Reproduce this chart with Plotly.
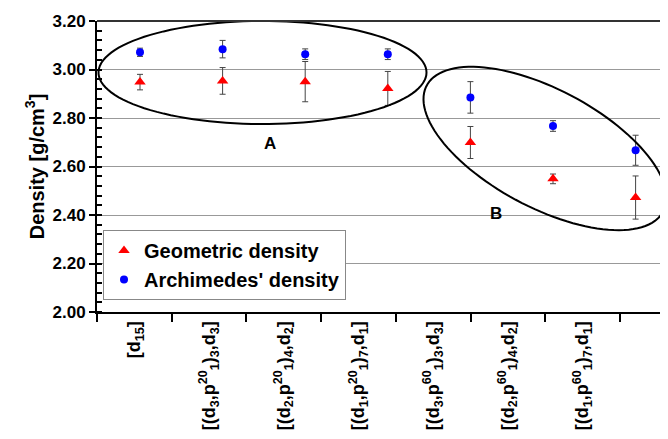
import numpy as np
import plotly.graph_objects as go

categories = [
    "[d<sub>15</sub>]",
    "[(d<sub>3</sub>,p<sup>20</sup><sub>1</sub>)<sub>3</sub>,d<sub>3</sub>]",
    "[(d<sub>2</sub>,p<sup>20</sup><sub>1</sub>)<sub>4</sub>,d<sub>2</sub>]",
    "[(d<sub>1</sub>,p<sup>20</sup><sub>1</sub>)<sub>7</sub>,d<sub>1</sub>]",
    "[(d<sub>3</sub>,p<sup>60</sup><sub>1</sub>)<sub>3</sub>,d<sub>3</sub>]",
    "[(d<sub>2</sub>,p<sup>60</sup><sub>1</sub>)<sub>4</sub>,d<sub>2</sub>]",
    "[(d<sub>1</sub>,p<sup>60</sup><sub>1</sub>)<sub>7</sub>,d<sub>1</sub>]",
]
geometric = [2.948, 2.953, 2.950, 2.922, 2.699, 2.549, 2.472]
geometric_err = [0.032, 0.055, 0.083, 0.070, 0.066, 0.020, 0.089]
archimedes = [3.071, 3.084, 3.063, 3.063, 2.885, 2.767, 2.667]
archimedes_err = [0.017, 0.036, 0.022, 0.022, 0.065, 0.022, 0.062]
y_ticks = [2.00, 2.20, 2.40, 2.60, 2.80, 3.00, 3.20]

# the page body adds an 8px offset; work in screen pixels and compensate
OFF = 8
W, H = 668 - OFF, 439 - OFF
L, R, T, B = 97, 668, 21, 312  # screen coords of the plot area
FONT = "Liberation Sans, Arial, sans-serif"

fig = go.Figure()
fig.add_trace(go.Scatter(
    x=categories, y=geometric, mode="markers", name="Geometric density",
    marker=dict(symbol="triangle-up", size=10, color="#ff0000"),
    error_y=dict(type="data", array=geometric_err, color="#444444", thickness=1, width=3),
))
fig.add_trace(go.Scatter(
    x=categories, y=archimedes, mode="markers", name="Archimedes' density",
    marker=dict(symbol="circle", size=8, color="#0000ff"),
    error_y=dict(type="data", array=archimedes_err, color="#444444", thickness=1, width=3),
))
# invisible trace to drive the label axis
fig.add_trace(go.Scatter(
    x=categories, y=geometric, xaxis="x2", mode="markers",
    marker=dict(opacity=0), showlegend=False, hoverinfo="skip",
))


def px_to_paper(px, py):
    return (px - L) / (R - L), (B - py) / (B - T)


def ellipse_path(cx, cy, a, b, theta_deg, n=120):
    th = np.deg2rad(theta_deg)
    t = np.linspace(0, 2 * np.pi, n)
    xs = cx + a * np.cos(t) * np.cos(th) - b * np.sin(t) * np.sin(th)
    ys = cy + a * np.cos(t) * np.sin(th) + b * np.sin(t) * np.cos(th)
    pts = [px_to_paper(x, y) for x, y in zip(xs, ys)]
    return "M " + " L ".join(f"{x:.5f},{y:.5f}" for x, y in pts) + " Z"


shapes = [
    dict(type="path", xref="paper", yref="paper",
         path=ellipse_path(262.5, 72.5, 164, 51.5, 0),
         line=dict(color="black", width=2)),
    dict(type="path", xref="paper", yref="paper",
         path=ellipse_path(545, 148.5, 134, 59, 28),
         line=dict(color="black", width=2)),
    dict(type="line", xref="paper", yref="paper", x0=0, x1=1, y0=1, y1=1,
         line=dict(color="#333333", width=2)),
]

ax, ay = px_to_paper(262, 143)
bx, by = px_to_paper(504, 213)
annotations = [
    dict(x=ax, y=ay, xref="paper", yref="paper", text="<b>A</b>", showarrow=False,
         font=dict(size=17, family=FONT, color="black")),
    dict(x=bx, y=by, xref="paper", yref="paper", text="<b>B</b>", showarrow=False,
         font=dict(size=17, family=FONT, color="black")),
]

# data axis: point spacing
x1_range = [-(140 - L) / 82.6, (R - 140) / 82.6]
# label axis: category width
cw = 74.7
x2_range = [-0.5, -0.5 + (R - L) / cw]

fig.update_layout(
    width=W, height=H,
    margin=dict(l=L - OFF, r=0, t=T - OFF, b=H - (B - OFF), autoexpand=False),
    paper_bgcolor="white", plot_bgcolor="white",
    font=dict(family=FONT, color="black"),
    showlegend=True,
    legend=dict(
        x=px_to_paper(103, 0)[0], y=px_to_paper(0, 230)[1], xanchor="left", yanchor="top",
        bgcolor="white", bordercolor="#888888", borderwidth=1,
        font=dict(size=20, family=FONT, weight="bold", color="black"),
        itemwidth=30, tracegroupgap=0,
    ),
    xaxis=dict(
        type="category", categoryorder="array", categoryarray=categories,
        range=x1_range, showticklabels=False, showgrid=False, ticks="",
        showline=False, zeroline=False, automargin=False,
    ),
    xaxis2=dict(
        type="category", categoryorder="array", categoryarray=categories,
        overlaying="x", anchor="y", side="bottom", automargin=False,
        range=x2_range, tickson="boundaries", ticks="outside", ticklen=8,
        tickwidth=1.5, tickcolor="black",
        showline=True, linecolor="black", linewidth=2, showgrid=False,
        tickangle=-90,
        tickfont=dict(size=18, family=FONT, weight="bold", color="black"),
    ),
    yaxis=dict(
        range=[2.0, 3.2], tickvals=y_ticks, tickformat=".2f", automargin=False,
        showgrid=True, gridcolor="#999999", gridwidth=1.3,
        showline=True, linecolor="black", linewidth=2,
        ticks="outside", ticklen=6, tickwidth=1.5, tickcolor="black",
        minor=dict(dtick=0.04, ticks="inside", ticklen=5, tickcolor="black", showgrid=False),
        zeroline=False,
        tickfont=dict(size=17, family=FONT, weight="bold", color="black"),
        title=dict(text="Density [g/cm<sup>3</sup>]", standoff=3,
                   font=dict(size=20, family=FONT, weight="bold", color="black")),
    ),
    shapes=shapes,
    annotations=annotations,
)

fig.write_html("out.html")
